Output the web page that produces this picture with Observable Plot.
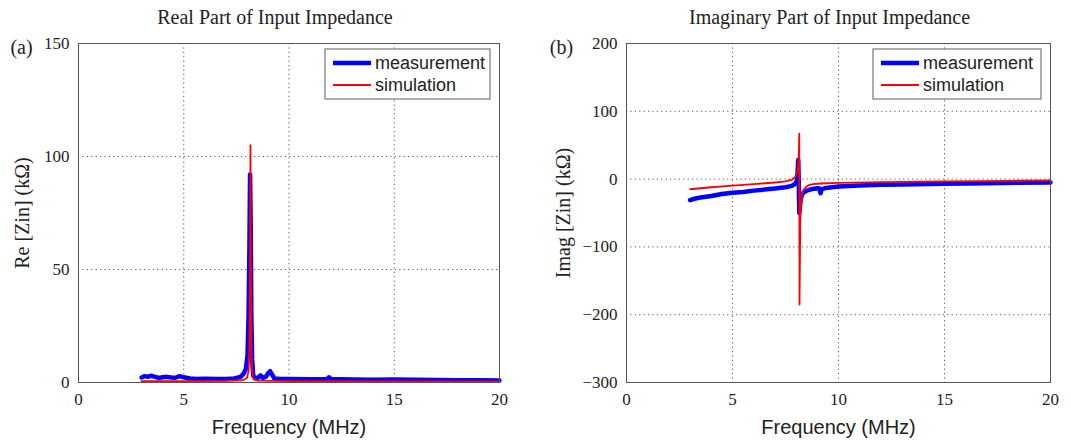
<!DOCTYPE html>
<html>
<head>
<meta charset="utf-8">
<script src="https://cdn.jsdelivr.net/npm/d3@7"></script>
<script src="https://cdn.jsdelivr.net/npm/@observablehq/plot@0.6"></script>
<style>
  html, body { margin: 0; padding: 0; background: #fff; }
  #wrap { display: flex; flex-direction: row; width: 1071px; height: 442px; }
  svg { display: block; }
</style>
</head>
<body>
<div id="wrap"></div>
<script>
// ---------- data ----------
const seriesNames = ["measurement", "simulation"];
const xTicks = [0, 5, 10, 15, 20];
const reTicks = [0, 50, 100, 150];
const imTicks = [-300, -200, -100, 0, 100, 200];

// Real part, measurement (MHz, kΩ)
const reMeasF = [3.0,3.15,3.3,3.45,3.6,3.8,4.0,4.2,4.4,4.6,4.8,5.0,5.3,5.6,6.0,6.5,7.0,7.4,7.7,7.85,7.95,8.03,8.08,8.12,8.15,8.18,8.21,8.25,8.3,8.4,8.55,8.65,8.75,8.9,9.0,9.1,9.2,9.3,9.6,10,11,11.8,11.9,12.0,13,14,15,16,17,18,19,20];
const reMeasV = [2.2,2.8,2.5,3.0,2.6,2.0,2.3,2.5,2.2,2.1,2.8,2.3,1.8,1.6,1.7,1.5,1.6,1.8,2.5,4,6,12,30,60,92,70,30,10,3,1.8,2.2,3.2,2.0,2.5,4.0,5.0,3.5,1.8,1.5,1.5,1.4,1.5,2.3,1.5,1.3,1.2,1.3,1.2,1.1,1.0,1.0,0.9];
// Real part, simulation
const reSimF = [3.0,5.0,7.0,7.8,8.0,8.08,8.12,8.15,8.17,8.19,8.22,8.26,8.32,8.5,10,15,20];
const reSimV = [0.6,0.6,0.7,1.0,2,5,15,45,105,45,12,4,1.5,0.8,0.6,0.5,0.4];

// Imaginary part, measurement
const imMeasF = [3.0,3.2,3.5,4.0,4.5,5.0,5.5,6.0,6.5,7.0,7.5,7.8,7.95,8.05,8.1,8.13,8.15,8.18,8.22,8.28,8.35,8.5,8.7,9.0,9.1,9.15,9.2,9.4,10,11,12,13,15,17,20];
const imMeasV = [-31,-29,-27,-25,-22,-20,-19,-17,-15.5,-14,-12,-10,-7,-2,28,-10,-50,-40,-30,-23,-20,-17,-15,-13.5,-14,-21,-15,-13,-11,-9.5,-8.5,-7.8,-6.8,-6,-5];
// Imaginary part, simulation
const imSimF = [3.0,3.5,4.0,5.0,6.0,7.0,7.5,7.8,7.95,8.05,8.1,8.13,8.15,8.16,8.18,8.2,8.23,8.28,8.35,8.45,8.6,8.8,9.2,10,12,15,18,20];
const imSimV = [-15,-13.5,-12,-9.5,-7.5,-5,-3.5,-1,3,10,20,40,67,-185,-120,-60,-35,-25,-16,-12,-9,-7.5,-6.5,-5.5,-4.5,-3.5,-2.5,-2];

const toRows = (F, V) => F.map((f, i) => ({f, v: V[i]}));

const SERIF = "'Liberation Serif', 'Times New Roman', serif";
const SANS = "'Liberation Sans', Arial, Helvetica, sans-serif";
const BLUE = "#0000ff", RED = "#ff0000";

function panel(opts) {
  const {width, marginLeft, marginRight, yDomain, yTicks, yGrid, meas, sim,
         title, titleDx, tag, ylabel, ylabelDx} = opts;
  const marginTop = 43, marginBottom = 60, height = 442;
  const chart = Plot.plot({
    width, height, marginTop, marginBottom, marginLeft, marginRight,
    style: {background: "#fff", overflow: "visible"},
    x: {domain: [0, 20]},
    y: {domain: yDomain},
    marks: [
      Plot.gridX([5, 10, 15], {stroke: "#222", strokeOpacity: 0.75, strokeDasharray: "1.2,3.2"}),
      Plot.gridY(yGrid, {stroke: "#222", strokeOpacity: 0.75, strokeDasharray: "1.2,3.2"}),
      Plot.line(meas, {x: "f", y: "v", stroke: BLUE, strokeWidth: 4.5, strokeLinejoin: "round"}),
      Plot.line(sim, {x: "f", y: "v", stroke: RED, strokeWidth: 1.8}),
      Plot.frame({stroke: "#555", strokeWidth: 1}),
      Plot.axisX({ticks: xTicks, tickSize: 0, tickPadding: 10, fontSize: 17, fontFamily: SERIF, label: null, color: "#222"}),
      Plot.axisY({ticks: yTicks, tickSize: 0, tickPadding: 9, fontSize: 17, fontFamily: SERIF, label: null, color: "#222",
                  tickFormat: d => d < 0 ? "\u2212" + Math.abs(d) : String(d)}),
      Plot.text(["Frequency (MHz)"], {text: d => d, frameAnchor: "bottom", dy: 45, fontSize: 20, fontFamily: SANS, fill: "#222", lineAnchor: "middle"}),
      Plot.text([title], {text: d => d, frameAnchor: "top", dy: -26, dx: titleDx, fontSize: 20, fontFamily: SERIF, fill: "#222", lineAnchor: "middle"}),
      Plot.text([tag], {text: d => d, frameAnchor: "top-left", dx: -(marginLeft - 21), dy: 4, fontSize: 20, fontFamily: SERIF, fill: "#222", textAnchor: "middle", lineAnchor: "middle"}),
      Plot.text([ylabel], {text: d => d, frameAnchor: "left", dx: ylabelDx, rotate: -90, fontSize: 20, fontFamily: SERIF, fill: "#222", textAnchor: "middle", lineAnchor: "middle"})
    ]
  });

  // legend (top-right inside the frame)
  const svg = d3.select(chart);
  const right = width - marginRight;
  const bx = right - opts.legendOffset, by = 49, bw = opts.legendW, bh = 50;
  const g = svg.append("g").attr("text-anchor", "start");
  g.append("rect").attr("x", bx).attr("y", by).attr("width", bw).attr("height", bh)
    .attr("fill", "#fff").attr("stroke", "#777").attr("stroke-width", 1.2);
  const styles = [{c: BLUE, w: 4.5}, {c: RED, w: 1.8}];
  seriesNames.forEach((name, i) => {
    const yy = by + 14 + i * 22;
    g.append("line").attr("x1", bx + 8).attr("x2", bx + 46).attr("y1", yy).attr("y2", yy)
      .attr("stroke", styles[i].c).attr("stroke-width", styles[i].w);
    g.append("text").attr("x", bx + 50).attr("y", yy).attr("dy", "0.35em")
      .attr("text-anchor", "start").style("text-anchor", "start")
      .attr("font-family", SANS).style("font-size", "18px").attr("fill", "#222").text(name);
  });
  return chart;
}

const wrap = document.getElementById("wrap");
wrap.appendChild(panel({
  width: 540, marginLeft: 78, marginRight: 41,
  yDomain: [0, 150], yTicks: reTicks, yGrid: [50, 100],
  meas: toRows(reMeasF, reMeasV), sim: toRows(reSimF, reSimV),
  title: "Real Part of Input Impedance", titleDx: -14, tag: "(a)",
  ylabel: "Re [Zin] (k\u03A9)", ylabelDx: -56,
  legendOffset: 174, legendW: 165
}));
wrap.appendChild(panel({
  width: 531, marginLeft: 86, marginRight: 21,
  yDomain: [-300, 200], yTicks: imTicks, yGrid: [-200, -100, 0, 100],
  meas: toRows(imMeasF, imMeasV), sim: toRows(imSimF, imSimV),
  title: "Imaginary Part of Input Impedance", titleDx: -9, tag: "(b)",
  ylabel: "Imag [Zin] (k\u03A9)", ylabelDx: -63,
  legendOffset: 177, legendW: 168
}));
</script>
</body>
</html>
